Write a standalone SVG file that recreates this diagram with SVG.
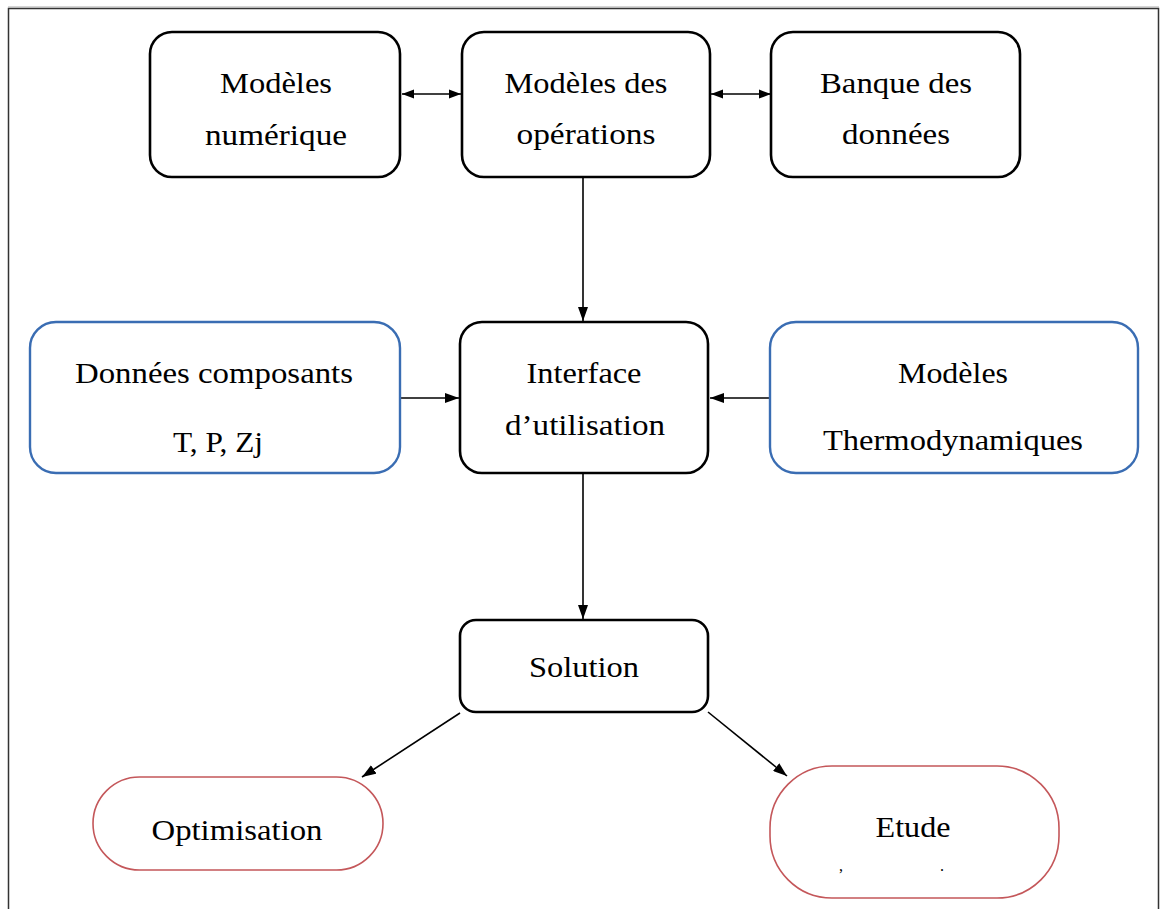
<svg xmlns="http://www.w3.org/2000/svg" width="1164" height="909" viewBox="0 0 1164 909">
<style>
  .t { font-family: "Liberation Serif", "Times New Roman", serif; font-size: 30px; fill: #000; text-anchor: middle; }
  .bk { fill: #fff; stroke: #000; stroke-width: 2.6; }
  .bl { fill: #fff; stroke: #3A6DB3; stroke-width: 2.4; }
  .rd { fill: #fff; stroke: #C4575A; stroke-width: 1.6; }
  .ln { stroke: #000; stroke-width: 1.6; fill: none; }
</style>
<defs>
  <marker id="ah" viewBox="0 0 12 10" refX="12" refY="5" markerWidth="12" markerHeight="10" markerUnits="userSpaceOnUse" orient="auto-start-reverse">
    <path d="M0,0.5 L12,5 L0,9.5 Z" fill="#000"/>
  </marker>
  <marker id="ah2" viewBox="0 0 14 10" refX="14" refY="5" markerWidth="14" markerHeight="10" markerUnits="userSpaceOnUse" orient="auto-start-reverse">
    <path d="M0,0 L14,5 L0,10 Z" fill="#000"/>
  </marker>
</defs>
<rect x="0" y="0" width="1164" height="909" fill="#fff"/>
<path d="M8.5,920 V8.5 H1158.5 V920" fill="none" stroke="#333" stroke-width="1.5"/>
<line x1="8" y1="7" x2="1159" y2="7" stroke="#aaa" stroke-width="1"/>

<g id="connectors">
  <line class="ln" x1="402" y1="94" x2="461" y2="94" marker-start="url(#ah)" marker-end="url(#ah)"/>
  <line class="ln" x1="711" y1="94" x2="771" y2="94" marker-start="url(#ah)" marker-end="url(#ah)"/>
  <line class="ln" x1="583" y1="178" x2="583" y2="321" marker-end="url(#ah2)"/>
  <line class="ln" x1="401" y1="398" x2="459" y2="398" marker-end="url(#ah2)"/>
  <line class="ln" x1="770" y1="398" x2="710" y2="398" marker-end="url(#ah2)"/>
  <line class="ln" x1="583" y1="474" x2="583" y2="619" marker-end="url(#ah2)"/>
  <line class="ln" x1="460" y1="713" x2="362" y2="777" marker-end="url(#ah2)"/>
  <line class="ln" x1="708" y1="712" x2="787" y2="776" marker-end="url(#ah2)"/>
</g>

<g id="modeles-numerique">
  <rect class="bk" x="150" y="32" width="250" height="145" rx="22"/>
  <text class="t" x="276" y="93" textLength="112" lengthAdjust="spacingAndGlyphs">Modèles</text>
  <text class="t" x="276" y="145" textLength="142" lengthAdjust="spacingAndGlyphs">numérique</text>
</g>

<g id="modeles-operations">
  <rect class="bk" x="462" y="32" width="248" height="145" rx="22"/>
  <text class="t" x="586" y="93" textLength="163" lengthAdjust="spacingAndGlyphs">Modèles des</text>
  <text class="t" x="586" y="144" textLength="139" lengthAdjust="spacingAndGlyphs">opérations</text>
</g>

<g id="banque-donnees">
  <rect class="bk" x="771" y="32" width="249" height="145" rx="22"/>
  <text class="t" x="896" y="93" textLength="152" lengthAdjust="spacingAndGlyphs">Banque des</text>
  <text class="t" x="896" y="144" textLength="108" lengthAdjust="spacingAndGlyphs">données</text>
</g>

<g id="donnees-composants">
  <rect class="bl" x="30" y="322" width="370" height="151" rx="26"/>
  <text class="t" x="214" y="383" textLength="278" lengthAdjust="spacingAndGlyphs">Données composants</text>
  <text class="t" x="218" y="452" textLength="90" lengthAdjust="spacingAndGlyphs">T, P, Zj</text>
</g>

<g id="interface">
  <rect class="bk" x="460" y="322" width="248" height="151" rx="22"/>
  <text class="t" x="584" y="383" textLength="115" lengthAdjust="spacingAndGlyphs">Interface</text>
  <text class="t" x="585" y="435" textLength="160" lengthAdjust="spacingAndGlyphs">d’utilisation</text>
</g>

<g id="modeles-thermo">
  <rect class="bl" x="770" y="322" width="368" height="151" rx="26"/>
  <text class="t" x="953" y="383" textLength="110" lengthAdjust="spacingAndGlyphs">Modèles</text>
  <text class="t" x="953" y="450" textLength="260" lengthAdjust="spacingAndGlyphs">Thermodynamiques</text>
</g>

<g id="solution">
  <rect class="bk" x="460" y="620" width="248" height="92" rx="16"/>
  <text class="t" x="584" y="677" textLength="110" lengthAdjust="spacingAndGlyphs">Solution</text>
</g>

<g id="optimisation">
  <rect class="rd" x="93" y="777" width="290" height="93" rx="46.5"/>
  <text class="t" x="237" y="840" textLength="171" lengthAdjust="spacingAndGlyphs">Optimisation</text>
</g>

<g id="etude">
  <rect class="rd" x="770" y="766" width="289" height="132" rx="62"/>
  <text class="t" x="913" y="837" textLength="75" lengthAdjust="spacingAndGlyphs">Etude</text>
  <text class="t" x="841" y="871" style="font-size:16px">,</text>
  <text class="t" x="942" y="871" style="font-size:16px">.</text>
</g>
</svg>
